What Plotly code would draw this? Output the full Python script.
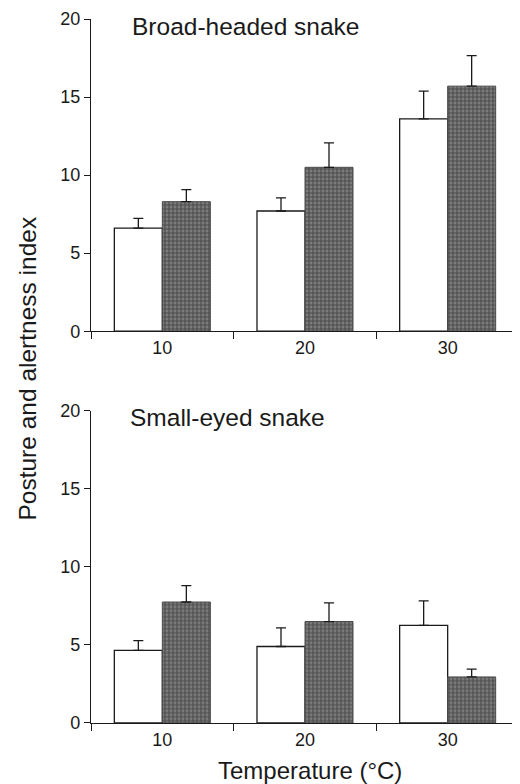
import plotly.graph_objects as go

temps = ["10", "20", "30"]

broad_open = [6.6, 7.7, 13.6]
broad_open_err = [0.63, 0.84, 1.78]
broad_hatch = [8.3, 10.5, 15.7]
broad_hatch_err = [0.77, 1.56, 1.95]

small_open = [4.65, 4.9, 6.25]
small_open_err = [0.63, 1.2, 1.57]
small_hatch = [7.75, 6.5, 2.95]
small_hatch_err = [1.05, 1.2, 0.5]

yticks = [0, 5, 10, 15, 20]
FONT = "Liberation Sans, Arial, Helvetica, sans-serif"
INK = "#1a1a1a"


def err(vals):
    return dict(type="data", array=vals, arrayminus=[0] * len(vals), symmetric=False,
                width=5, thickness=1.3, color=INK)


open_marker = dict(color="white", line=dict(color=INK, width=1.3))
hatch_marker = dict(color="#6e6e6e", line=dict(color="#4a4a4a", width=1),
                    pattern=dict(shape="+", fgcolor="#1c1c1c", bgcolor="#7c7c7c",
                                 size=4, solidity=0.5, fillmode="overlay"))

fig = go.Figure()
fig.add_bar(x=temps, y=broad_open, marker=open_marker, error_y=err(broad_open_err),
            xaxis="x", yaxis="y", showlegend=False)
fig.add_bar(x=temps, y=broad_hatch, marker=hatch_marker, error_y=err(broad_hatch_err),
            xaxis="x", yaxis="y", showlegend=False)
fig.add_bar(x=temps, y=small_open, marker=open_marker, error_y=err(small_open_err),
            xaxis="x2", yaxis="y2", showlegend=False)
fig.add_bar(x=temps, y=small_hatch, marker=hatch_marker, error_y=err(small_hatch_err),
            xaxis="x2", yaxis="y2", showlegend=False)

xax = dict(type="category", tickson="boundaries", ticks="outside", ticklen=7,
           tickwidth=1.2, tickcolor=INK, showline=True, linecolor=INK, linewidth=1.3,
           showgrid=False, zeroline=False, tickfont=dict(size=18, color=INK, family=FONT),
           domain=[0, 1])
yax = dict(range=[0, 20], tickvals=yticks, ticks="outside", ticklen=6, tickwidth=1.2,
           tickcolor=INK, showline=True, linecolor=INK, linewidth=1.3, showgrid=False,
           zeroline=False, tickfont=dict(size=18, color=INK, family=FONT))

# page body has an 8px margin, so figure is 512x776 placed at (8, 8)
fig.update_layout(
    width=512, height=776,
    margin=dict(l=83, r=1, t=8, b=61),
    paper_bgcolor="white", plot_bgcolor="white",
    barmode="group", bargap=0.327, bargroupgap=0,
    font=dict(family=FONT, color=INK),
    xaxis=dict(xax, anchor="y"),
    yaxis=dict(yax, domain=[0.5565, 1], anchor="x"),
    xaxis2=dict(xax, anchor="y2"),
    yaxis2=dict(yax, domain=[0, 0.4435], anchor="x2"),
    annotations=[
        dict(text="Broad-headed snake", xref="x domain", yref="y domain", x=0.091, y=0.977,
             xanchor="left", yanchor="middle", showarrow=False, font=dict(size=24.5, color=INK)),
        dict(text="Small-eyed snake", xref="x2 domain", yref="y2 domain", x=0.086, y=0.977,
             xanchor="left", yanchor="middle", showarrow=False, font=dict(size=24.5, color=INK)),
        dict(text="Posture and alertness index", xref="paper", yref="paper", x=-0.148, y=0.503,
             xanchor="center", yanchor="middle", textangle=-90, showarrow=False,
             font=dict(size=24.5, color=INK)),
        dict(text="Temperature (°C)", xref="paper", yref="paper", x=0.512, y=-0.067,
             xanchor="center", yanchor="middle", showarrow=False, font=dict(size=24, color=INK)),
    ],
)

fig.write_html("out.html")
